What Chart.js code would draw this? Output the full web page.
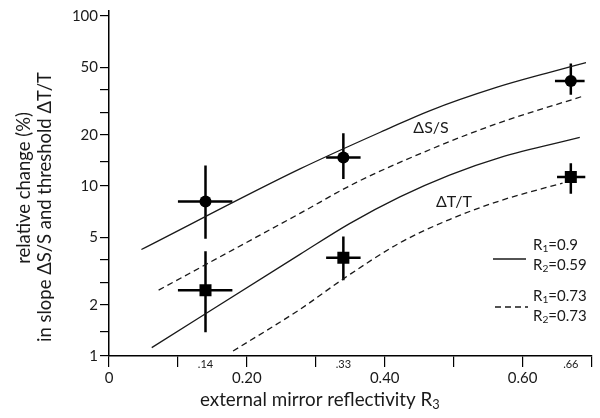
<!DOCTYPE html>
<html>
<head>
<meta charset="utf-8">
<script src="https://cdn.jsdelivr.net/npm/chart.js@4.4.1/dist/chart.umd.min.js"></script>
<style>
  html, body { margin: 0; padding: 0; background: #fff; }
  #chart { display: block; }
</style>
</head>
<body>
<canvas id="chart" width="600" height="418"></canvas>
<script>
// axis ticks
const xTicks = [0, 0.1, 0.2, 0.3, 0.4, 0.5, 0.6, 0.7];
const xTickLabels = ['0', '', '0.20', '', '0.40', '', '0.60', ''];
const yTicks = [1, 1.4, 2, 2.7, 3.7, 5, 10, 14, 20, 27, 37, 50, 100];
const yTickLabels = ['1', '', '2', '', '', '5', '10', '', '20', '', '', '50', '100'];

// marked reflectivity values under the axis
const markX = [0.14, 0.34, 0.67];
const markLabels = ['.14', '.33', '.66'];

// model curves, dS/S
const sSolidX = [0.047, 0.277, 0.407, 0.465, 0.562, 0.634, 0.692];
const sSolidY = [4.23, 12.6, 21.9, 27.7, 38.0, 46.0, 53.1];
const sDashX = [0.072, 0.277, 0.359, 0.48, 0.562, 0.687];
const sDashY = [2.44, 6.9, 10.5, 17.3, 23.2, 33.7];

// model curves, dT/T
const tSolidX = [0.062, 0.277, 0.349, 0.422, 0.494, 0.567, 0.683];
const tSolidY = [1.12, 3.96, 6.01, 8.63, 11.6, 14.7, 19.3];
const tDashX = [0.18, 0.277, 0.342, 0.422, 0.494, 0.567, 0.658];
const tDashY = [1.07, 1.88, 2.88, 4.63, 6.35, 8.18, 10.4];

// measured points with error bars
const measX = [0.14, 0.34, 0.67];
const sMeasY = [8.1, 14.7, 41.5];
const sYLo = [4.9, 11.0, 34.4];
const sYHi = [13.2, 20.4, 52.6];
const sXLo = [0.10, 0.315, 0.647];
const sXHi = [0.179, 0.365, 0.69];
const tMeasY = [2.44, 3.78, 11.3];
const tYLo = [1.38, 2.79, 9.0];
const tYHi = [4.13, 5.05, 13.6];
const tXLo = [0.10, 0.315, 0.65];
const tXHi = [0.179, 0.365, 0.691];

const FONT = 'Lato, "Open Sans", sans-serif';
const INK = '#1a1a1a';

const pts = (xs, ys) => xs.map((x, i) => ({ x: x, y: ys[i] }));

function curve(xs, ys, dashed) {
    return {
        type: 'line',
        data: pts(xs, ys),
        borderColor: INK,
        borderWidth: 1.3,
        borderDash: dashed ? [6, 4] : [],
        pointRadius: 0,
        fill: false,
        cubicInterpolationMode: 'monotone'
    };
}

// text with subscripts: parts = [[text, isSub], ...]
function richWidth(ctx, parts, size) {
    let w = 0;
    parts.forEach(p => {
        ctx.font = (p[1] ? size * 0.68 : size) + 'px ' + FONT;
        w += ctx.measureText(p[0]).width;
    });
    return w;
}

function drawRich(ctx, parts, x, y, size) {
    let cx = x;
    ctx.textAlign = 'left';
    ctx.textBaseline = 'middle';
    parts.forEach(p => {
        ctx.font = (p[1] ? size * 0.68 : size) + 'px ' + FONT;
        ctx.fillText(p[0], cx, p[1] ? y + size * 0.28 : y);
        cx += ctx.measureText(p[0]).width;
    });
}

// font size that makes a text span the given width
function fitSize(ctx, text, width) {
    ctx.font = '16px ' + FONT;
    return 16 * width / ctx.measureText(text).width;
}

const errorBars = {
    id: 'errorBars',
    beforeDatasetsDraw(chart) {
        const { ctx, scales: { x, y } } = chart;
        ctx.save();
        ctx.strokeStyle = '#000';
        ctx.lineWidth = 2.5;
        const sets = [[sMeasY, sYLo, sYHi, sXLo, sXHi], [tMeasY, tYLo, tYHi, tXLo, tXHi]];
        sets.forEach(([my, lo, hi, xl, xh]) => {
            measX.forEach((mx, i) => {
                const px = x.getPixelForValue(mx);
                const py = y.getPixelForValue(my[i]);
                ctx.beginPath();
                ctx.moveTo(px, y.getPixelForValue(lo[i]));
                ctx.lineTo(px, y.getPixelForValue(hi[i]));
                ctx.moveTo(x.getPixelForValue(xl[i]), py);
                ctx.lineTo(x.getPixelForValue(xh[i]), py);
                ctx.stroke();
            });
        });
        ctx.restore();
    }
};

const annotations = {
    id: 'annotations',
    afterDraw(chart) {
        const { ctx, scales: { x } } = chart;
        ctx.save();
        ctx.fillStyle = INK;

        // small labels for the measured reflectivities
        ctx.font = '11px ' + FONT;
        ctx.textAlign = 'center';
        ctx.textBaseline = 'middle';
        markX.forEach((v, i) => ctx.fillText(markLabels[i], x.getPixelForValue(v), 364));

        // curve labels
        ctx.font = '16px ' + FONT;
        ctx.fillText('ΔS/S', 431, 128);
        ctx.fillText('ΔT/T', 454, 202);

        // x title
        const title = [['external mirror reflectivity R', false], ['3', true]];
        const ts = 17 * 240 / richWidth(ctx, title, 17);
        drawRich(ctx, title, 320 - 120, 400, ts);

        // y title, two lines
        const line1 = 'relative change (%)';
        const line2 = 'in slope ΔS/S and threshold ΔT/T';
        const ys = fitSize(ctx, line2, 270);
        ctx.font = ys + 'px ' + FONT;
        ctx.textAlign = 'center';
        ctx.textBaseline = 'alphabetic';
        ctx.save();
        ctx.translate(0, 188);
        ctx.rotate(-Math.PI / 2);
        ctx.fillText(line1, 0, 30);
        ctx.restore();
        ctx.save();
        ctx.translate(0, 207);
        ctx.rotate(-Math.PI / 2);
        ctx.fillText(line2, 0, 51);
        ctx.restore();

        // legend
        ctx.strokeStyle = INK;
        ctx.lineWidth = 1.3;
        ctx.beginPath();
        ctx.moveTo(493, 259);
        ctx.lineTo(526, 259);
        ctx.stroke();
        ctx.setLineDash([6, 4]);
        ctx.beginPath();
        ctx.moveTo(495, 307);
        ctx.lineTo(528, 307);
        ctx.stroke();
        ctx.setLineDash([]);
        drawRich(ctx, [['R', false], ['1', true], ['=0.9', false]], 533, 245, 15);
        drawRich(ctx, [['R', false], ['2', true], ['=0.59', false]], 533, 265, 15);
        drawRich(ctx, [['R', false], ['1', true], ['=0.73', false]], 533, 296, 15);
        drawRich(ctx, [['R', false], ['2', true], ['=0.73', false]], 533, 316, 15);
        ctx.restore();
    }
};

new Chart(document.getElementById('chart'), {
    data: {
        datasets: [
            curve(sSolidX, sSolidY, false),
            curve(sDashX, sDashY, true),
            curve(tSolidX, tSolidY, false),
            curve(tDashX, tDashY, true),
            {
                type: 'scatter',
                data: pts(measX, sMeasY),
                pointStyle: 'circle',
                pointRadius: 6,
                backgroundColor: '#000',
                borderWidth: 0
            },
            {
                type: 'scatter',
                data: pts(measX, tMeasY),
                pointStyle: 'rect',
                pointRadius: 8.5,
                backgroundColor: '#000',
                borderWidth: 0
            }
        ]
    },
    options: {
        responsive: false,
        animation: false,
        events: [],
        layout: { padding: { left: 0, right: 8, top: 7, bottom: 0 } },
        plugins: {
            legend: { display: false },
            tooltip: { enabled: false }
        },
        scales: {
            x: {
                type: 'linear',
                min: 0,
                max: 0.7,
                afterBuildTicks: s => { s.ticks = xTicks.map(v => ({ value: v })); },
                afterFit: s => { s.height = 62; },
                ticks: {
                    autoSkip: false,
                    maxRotation: 0,
                    padding: 2,
                    color: INK,
                    font: { family: FONT, size: 15 },
                    callback: (v, i) => xTickLabels[i]
                },
                grid: { drawOnChartArea: false, tickLength: 11, color: '#000', lineWidth: 1.2 },
                border: { color: '#000', width: 1.5 }
            },
            y: {
                type: 'logarithmic',
                min: 1,
                max: 107,
                afterBuildTicks: s => { s.ticks = yTicks.map(v => ({ value: v })); },
                afterFit: s => { s.width = 109; },
                ticks: {
                    autoSkip: false,
                    padding: 2,
                    color: INK,
                    font: { family: FONT, size: 15 },
                    callback: (v, i) => yTickLabels[i]
                },
                grid: { drawOnChartArea: false, tickLength: 9, color: '#000', lineWidth: 1.2 },
                border: { color: '#000', width: 1.5 }
            }
        }
    },
    plugins: [errorBars, annotations]
});
</script>
</body>
</html>
